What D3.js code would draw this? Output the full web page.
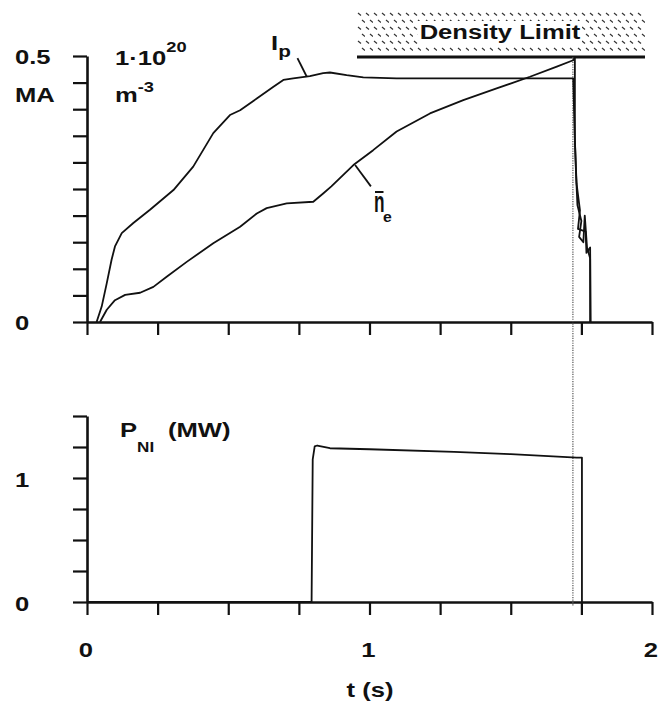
<!DOCTYPE html>
<html><head><meta charset="utf-8">
<script src="https://cdn.jsdelivr.net/npm/d3@7"></script>
<style>
html,body{margin:0;padding:0;background:#fff;}
svg text{font-family:"Liberation Sans",Arial,Helvetica,sans-serif;font-weight:bold;fill:#111;}
</style></head>
<body>
<svg id="c" width="672" height="708"></svg>
<script>
// ---------- data ----------
const ipT = [0.034,0.052,0.070,0.087,0.099,0.123,0.164,0.223,0.306,0.376,0.447,0.506,0.542,0.601,0.660,0.695,0.730,0.789,0.836,0.860,0.919,0.978,1.096,1.300,1.500,1.721,1.726,1.731,1.736,1.750,1.742,1.757,1.762,1.770,1.781,1.781];
const ipV = [0,0.029,0.073,0.117,0.142,0.167,0.186,0.211,0.248,0.292,0.355,0.389,0.398,0.420,0.442,0.455,0.458,0.462,0.468,0.469,0.464,0.460,0.458,0.458,0.458,0.458,0.36,0.28,0.22,0.19,0.16,0.15,0.20,0.14,0.12,0];
const neT = [0.046,0.070,0.099,0.135,0.188,0.235,0.282,0.353,0.447,0.542,0.601,0.636,0.707,0.801,0.837,0.865,0.943,1.013,1.096,1.214,1.332,1.450,1.568,1.663,1.721,1.727,1.727,1.733,1.745,1.738,1.765,1.768,1.781,1.783];
const neV = [0,0.023,0.041,0.051,0.055,0.066,0.085,0.113,0.148,0.179,0.204,0.214,0.223,0.226,0.242,0.255,0.295,0.323,0.358,0.392,0.417,0.439,0.461,0.480,0.492,0.497,0.34,0.26,0.21,0.175,0.17,0.13,0.14,0];
const pniT = [0,0.795,0.799,0.806,0.815,0.860,1.000,1.300,1.500,1.733,1.752,1.752];
const pniV = [0,0,1.15,1.255,1.262,1.240,1.232,1.210,1.192,1.165,1.165,0];
const xTicks = [0,0.25,0.5,0.75,1,1.25,1.5,1.75,2];
const xTickLabels = [{v:0,t:"0"},{v:1,t:"1"},{v:2,t:"2"}];
const yTopTicks = [0,0.05,0.1,0.15,0.2,0.25,0.3,0.35,0.4,0.45,0.5];
const yTopLabels = [{v:0.5,t:"0.5"},{v:0,t:"0"}];
const yBotTicks = [0,0.25,0.5,0.75,1,1.25,1.5];
const yBotLabels = [{v:1,t:"1"},{v:0,t:"0"}];
const densityLimit = 0.498;
const limitTime = 1.72;

// ---------- setup ----------
const svg = d3.select("#c");
const SX = 1.22;
const x = d3.scaleLinear([0,2],[87,652]);
const yT = d3.scaleLinear([0,0.5],[322,56]);
const yB = d3.scaleLinear([0,1.5],[602,416]);

// hatch pattern
const defs = svg.append("defs");
const pat = defs.append("pattern").attr("id","hatch").attr("patternUnits","userSpaceOnUse")
  .attr("width",8).attr("height",14).attr("x",357).attr("y",12);
pat.append("path").attr("d","M1,1L4,3.5M5,8L8,10.5").attr("stroke","#333").attr("stroke-width",1.2).attr("fill","none");

function txt(xp,yp,s,size,anchor,sx,sy){
  return svg.append("text").attr("transform",`translate(${xp},${yp}) scale(${sx||SX},${sy||1})`)
    .attr("text-anchor",anchor||"start").style("font-size",(size||21)+"px").text(s);
}

// ---------- axes ----------
function styleAxis(g){
  g.select(".domain").attr("stroke","#111").attr("stroke-width",2.6);
  g.selectAll(".tick line").attr("stroke","#111").attr("stroke-width",2.2);
  g.selectAll(".tick text").remove();
}
svg.append("g").attr("transform","translate(0,322)")
  .call(d3.axisBottom(x).tickValues(xTicks).tickSize(13).tickSizeOuter(0)).call(styleAxis);
svg.append("g").attr("transform","translate(87,0)")
  .call(d3.axisLeft(yT).tickValues(yTopTicks).tickSize(14).tickSizeOuter(0)).call(styleAxis);
svg.append("g").attr("transform","translate(0,602)")
  .call(d3.axisBottom(x).tickValues(xTicks).tickSize(13).tickSizeOuter(0)).call(styleAxis);
svg.append("g").attr("transform","translate(87,0)")
  .call(d3.axisLeft(yB).tickValues(yBotTicks).tickSize(14).tickSizeOuter(0)).call(styleAxis);

yTopLabels.forEach(d=>txt(15,yT(d.v)+8,d.t));
yBotLabels.forEach(d=>txt(15,yB(d.v)+8.5,d.t));
xTickLabels.forEach(d=>txt(x(d.v)-1,657,d.t,21,"middle"));
txt(370,697,"t (s)",21,"middle");

// ---------- density limit box ----------
svg.append("rect").attr("x",357).attr("y",12).attr("width",288).attr("height",41).attr("fill","url(#hatch)");
svg.append("rect").attr("x",418).attr("y",21).attr("width",164).attr("height",23).attr("fill","#fff");
txt(500,38.5,"Density Limit",21,"middle");
svg.append("line").attr("x1",357).attr("x2",645).attr("y1",yT(densityLimit)).attr("y2",yT(densityLimit))
  .attr("stroke","#111").attr("stroke-width",3);

// dotted vertical line
svg.append("line").attr("x1",x(limitTime)).attr("x2",x(limitTime)).attr("y1",yT(densityLimit)).attr("y2",606)
  .attr("stroke","#555").attr("stroke-width",1.2).attr("stroke-dasharray","1.2,1.2");

// ---------- curves ----------
const lineT = d3.line().x(d=>x(d[0])).y(d=>yT(d[1]));
const lineB = d3.line().x(d=>x(d[0])).y(d=>yB(d[1]));
svg.append("path").attr("d",lineT(ipT.map((t,i)=>[t,ipV[i]]))).attr("fill","none").attr("stroke","#111").attr("stroke-width",1.8).attr("stroke-linejoin","round");
svg.append("path").attr("d",lineT(neT.map((t,i)=>[t,neV[i]]))).attr("fill","none").attr("stroke","#111").attr("stroke-width",1.8).attr("stroke-linejoin","round");
svg.append("path").attr("d",lineB(pniT.map((t,i)=>[t,pniV[i]]))).attr("fill","none").attr("stroke","#111").attr("stroke-width",1.8).attr("stroke-linejoin","round");

// ---------- labels ----------
// top-left units
txt(15,102,"MA");
const t1 = txt(115,65,"1·10");
t1.append("tspan").attr("dy",-13).style("font-size","15px").text("20");
const t2 = txt(115,102,"m");
t2.append("tspan").attr("dy",-10).style("font-size","15px").text("-3");

// Ip label + leader
const ipl = txt(271,50,"I");
ipl.append("tspan").attr("dy",7).style("font-size","17px").text("p");
svg.append("line").attr("x1",x(0.745)).attr("y1",yT(0.496)).attr("x2",x(0.778)).attr("y2",yT(0.461))
  .attr("stroke","#111").attr("stroke-width",1.8);

// ne label + leader
svg.append("line").attr("x1",x(0.949)).attr("y1",yT(0.295)).attr("x2",x(1.005)).attr("y2",yT(0.255))
  .attr("stroke","#111").attr("stroke-width",1.8);
txt(374,212,"n",21,"start",0.82,1.4);
svg.append("line").attr("x1",375).attr("x2",383.5).attr("y1",192).attr("y2",192).attr("stroke","#111").attr("stroke-width",2);
txt(383,222,"e",15,"start",1.05);

// PNI label
const pl = txt(120,437,"P");
pl.append("tspan").attr("dy",15).style("font-size","14px").text("NI");
txt(168,437,"(MW)");
</script>
</body></html>
